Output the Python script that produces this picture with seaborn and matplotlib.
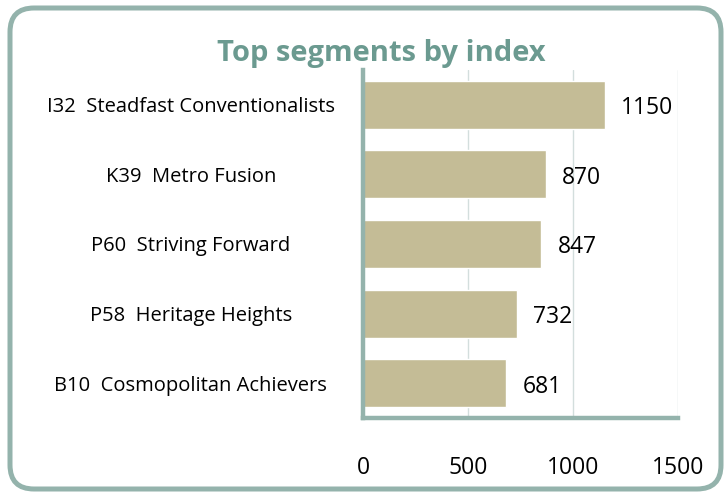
import matplotlib
matplotlib.use("Agg")
import matplotlib.pyplot as plt
from matplotlib.patches import FancyBboxPatch
import seaborn as sns
import pandas as pd

segments = ["I32  Steadfast Conventionalists", "K39  Metro Fusion", "P60  Striving Forward",
            "P58  Heritage Heights", "B10  Cosmopolitan Achievers"]
index_values = [1150, 870, 847, 732, 681]
x_ticks = [0, 500, 1000, 1500]

bar_color = "#C4BC96"
frame_color = "#94B3AC"
title_color = "#6B9A90"
grid_color = "#D3DEDD"

sns.set_theme(style="white")
plt.rcParams["font.family"] = ["Open Sans", "DejaVu Sans"]

df = pd.DataFrame({"segment": segments, "index": index_values})

fig = plt.figure(figsize=(7.27, 4.93), dpi=100)

# rounded outer frame, drawn in pixel units
bg = fig.add_axes([0, 0, 1, 1])
bg.set_xlim(0, 727)
bg.set_ylim(0, 493)
bg.axis("off")
bg.add_patch(FancyBboxPatch((10, 4), 711, 481, boxstyle="round,pad=0,rounding_size=24",
                            facecolor="white", edgecolor=frame_color, linewidth=3.6))

ax = fig.add_axes([363 / 727, 1 - 418 / 493, 315 / 727, 348 / 493])
sns.barplot(data=df, x="index", y="segment", color=bar_color, width=0.69,
            saturation=1, ax=ax)
ax.set_xlim(0, 1500)
ax.set_ylim(4.5, -0.5)
ax.set_xticks(x_ticks)
ax.set_xticklabels([str(t) for t in x_ticks], fontsize=16.5, color="black")
ax.tick_params(axis="x", length=0, pad=27)
ax.tick_params(axis="y", length=0, pad=124)
for lab in ax.get_yticklabels():
    lab.set_horizontalalignment("center")
    lab.set_fontsize(14.5)
    lab.set_color("black")
ax.set_xlabel("")
ax.set_ylabel("")
ax.xaxis.grid(True, color=grid_color, linewidth=1)
ax.set_axisbelow(True)
for s in ["top", "right"]:
    ax.spines[s].set_visible(False)
for s in ["left", "bottom"]:
    ax.spines[s].set_color(frame_color)
    ax.spines[s].set_linewidth(3.2)

texts = ax.bar_label(ax.containers[0], labels=[str(v) for v in index_values],
                     padding=12, fontsize=16.5, color="black")
# labels sit a touch below the bar centre in the original
for t in texts:
    ox, oy = t.xyann
    t.xyann = (ox, oy - 2.5)

fig.text(381 / 727, 1 - 54 / 493, "Top segments by index", ha="center", va="center",
         fontsize=21, fontweight="bold", color=title_color)

fig.savefig("out.png", dpi=100)
